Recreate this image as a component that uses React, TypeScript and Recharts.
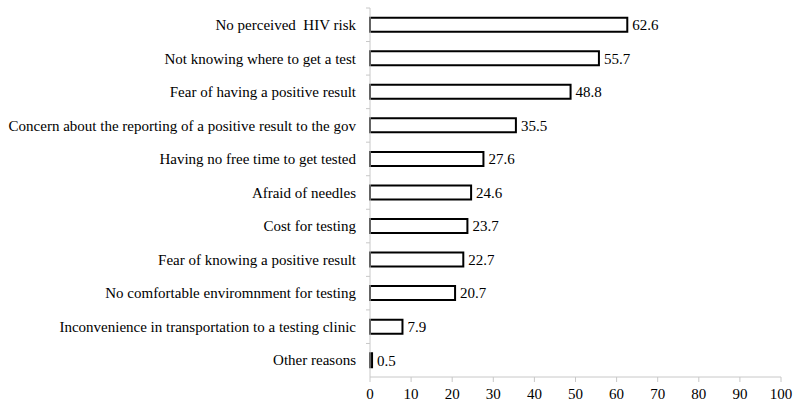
import { Bar, BarChart, LabelList, XAxis, YAxis } from 'recharts';

const reasons = [
  'No perceived  HIV risk',
  'Not knowing where to get a test',
  'Fear of having a positive result',
  'Concern about the reporting of a positive result to the gov',
  'Having no free time to get tested',
  'Afraid of needles',
  'Cost for testing',
  'Fear of knowing a positive result',
  'No comfortable enviromnment for testing',
  'Inconvenience in transportation to a testing clinic',
  'Other reasons',
];
const percents = [62.6, 55.7, 48.8, 35.5, 27.6, 24.6, 23.7, 22.7, 20.7, 7.9, 0.5];
const xTicks = [0, 10, 20, 30, 40, 50, 60, 70, 80, 90, 100];

const FONT = 'Liberation Serif';
const FONT_SIZE = 15;
const AXIS_GREY = '#c8c8c8';

const data = reasons.map((reason, i) => ({ reason, pct: percents[i] }));

function ReasonTick(props: any) {
  const { x, y, payload } = props;
  const half = payload?.offset ?? 33.5 / 2;
  return (
    <g>
      <line x1={x + 10} x2={x + 14} y1={y - half} y2={y - half} stroke={AXIS_GREY} />
      <text
        x={x}
        y={y}
        dy="0.35em"
        textAnchor="end"
        fontSize={FONT_SIZE}
        fill="#000"
        style={{ whiteSpace: 'pre', fontFamily: FONT }}
      >
        {payload.value}
      </text>
    </g>
  );
}

export default function App() {
  return (
    <div style={{ position: 'absolute', left: 0, top: 0, background: '#fff', fontFamily: FONT }}>
      <BarChart
        width={800}
        height={420}
        data={data}
        layout="vertical"
        margin={{ top: 8, right: 19, bottom: 13, left: 0 }}
        barCategoryGap="29%"
        style={{ fontFamily: FONT }}
      >
        <XAxis
          type="number"
          domain={[0, 100]}
          ticks={xTicks}
          interval={0}
          stroke={AXIS_GREY}
          tickSize={5}
          tickMargin={6}
          tick={{ fill: '#000', fontSize: FONT_SIZE, style: { fontFamily: FONT } }}
          height={30}
        />
        <YAxis
          type="category"
          dataKey="reason"
          width={370}
          stroke={AXIS_GREY}
          tickLine={false}
          tickSize={4}
          tickMargin={10}
          interval={0}
          tick={<ReasonTick />}
        />
        <Bar dataKey="pct" fill="#fff" stroke="#000" strokeWidth={2} isAnimationActive={false}>
          <LabelList dataKey="pct" position="right" offset={5} fill="#000" fontSize={FONT_SIZE} style={{ fontFamily: FONT }} />
        </Bar>
      </BarChart>
    </div>
  );
}
